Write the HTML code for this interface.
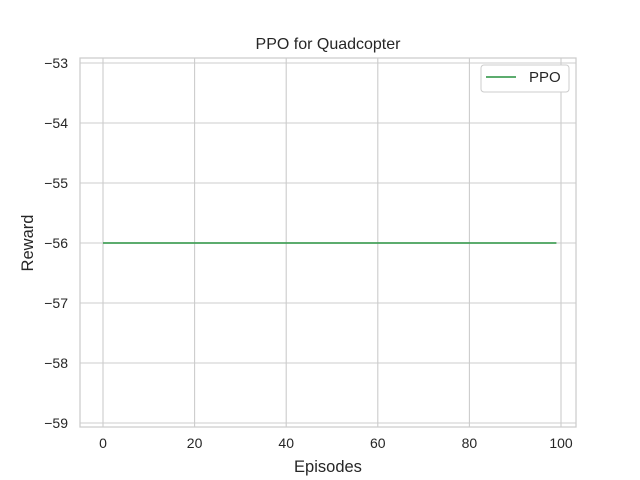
<!DOCTYPE html>
<html><head><meta charset="utf-8"><style>
body{margin:0;background:#fff;}
svg{display:block;font-family:"Liberation Sans","DejaVu Sans",sans-serif;}
</style></head><body>
<svg id="chart" width="640" height="480">
<rect width="640" height="480" fill="#fff"/>
<g id="grid"></g>
<rect x="80" y="58" width="496" height="369" fill="none" stroke="#cccccc" stroke-width="1.25"/>
<g id="marks"></g>
<g id="ticks" fill="#262626" font-size="14"></g>
<text x="328" y="49" text-anchor="middle" font-size="16" fill="#262626">PPO for Quadcopter</text>
<text x="328" y="472" text-anchor="middle" font-size="16.5" fill="#262626">Episodes</text>
<text x="33" y="243" text-anchor="middle" font-size="16.5" fill="#262626" transform="rotate(-90 33 243)">Reward</text>
<g>
<rect x="481" y="65" width="88" height="27" rx="3" fill="#fff" stroke="#cccccc"/>
<line x1="486" y1="77" x2="516" y2="77" stroke="#44a05a" stroke-width="1.8"/>
<text x="529" y="82" font-size="15" fill="#262626">PPO</text>
</g>
</svg>
<script>
const rewards = [-56,-56,-56,-56,-56,-56,-56,-56,-56,-56,-56,-56,-56,-56,-56,-56,-56,-56,-56,-56,
-56,-56,-56,-56,-56,-56,-56,-56,-56,-56,-56,-56,-56,-56,-56,-56,-56,-56,-56,-56,
-56,-56,-56,-56,-56,-56,-56,-56,-56,-56,-56,-56,-56,-56,-56,-56,-56,-56,-56,-56,
-56,-56,-56,-56,-56,-56,-56,-56,-56,-56,-56,-56,-56,-56,-56,-56,-56,-56,-56,-56,
-56,-56,-56,-56,-56,-56,-56,-56,-56,-56,-56,-56,-56,-56,-56,-56,-56,-56,-56,-56];
const xTicks = [0,20,40,60,80,100];
const yTicks = [-53,-54,-55,-56,-57,-58,-59];
const yTickLabels = ["\u221253","\u221254","\u221255","\u221256","\u221257","\u221258","\u221259"];
const NS="http://www.w3.org/2000/svg";
function xs(v){return 103+(v-0)*(561-103)/100;}
function ys(v){return 243-(v+56)*60;}
function mk(tag,attrs,parent){const e=document.createElementNS(NS,tag);for(const k in attrs)e.setAttribute(k,attrs[k]);parent.appendChild(e);return e;}
const grid=document.getElementById('grid'),ticks=document.getElementById('ticks'),marks=document.getElementById('marks');
xTicks.forEach(t=>{
  const l=mk('line',{x1:xs(t),x2:xs(t),y1:58,y2:427,stroke:'#cccccc','stroke-width':1.1},grid);
  
  
  const tx=mk('text',{x:xs(t),y:448,'text-anchor':'middle'},ticks);
  tx.textContent=t;
  
  
});
yTicks.forEach((t,i)=>{
  const l=mk('line',{x1:80,x2:576,y1:ys(t),y2:ys(t),stroke:'#cccccc','stroke-width':1.1},grid);
  
  
  const tx=mk('text',{x:68,y:ys(t)+5,'text-anchor':'end'},ticks);
  tx.textContent=yTickLabels[i];
  
  
});
const pts=rewards.map((v,i)=>xs(i)+','+ys(v)).join(' ');
const pl=mk('polyline',{points:pts,fill:'none',stroke:'#44a05a','stroke-width':1.8},marks);


</script>
</body></html>
